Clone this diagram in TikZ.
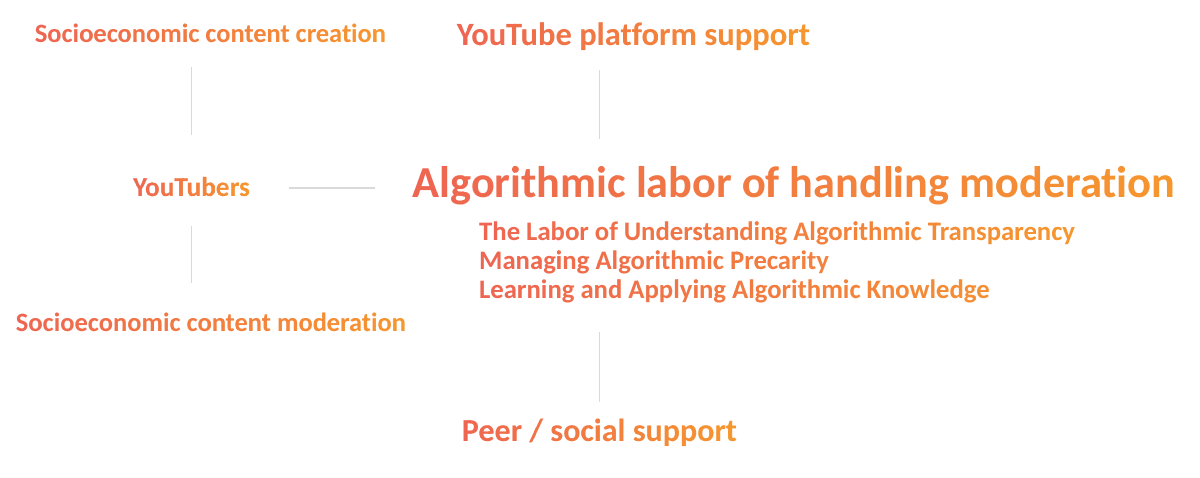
\documentclass[tikz,border=0pt]{standalone}
\usepackage{fontspec}
\setmainfont[Ligatures=NoCommon,RawFeature={-liga;-dlig}]{Carlito}
\usetikzlibrary{calc}
\definecolor{gL}{HTML}{EE6551}
\definecolor{gR}{HTML}{F6962E}
\definecolor{lineg}{HTML}{D9D9D9}
\tikzset{
  conn/.style={draw=lineg, line width=1.6pt},
  hid/.style={inner sep=0pt, opacity=0},
  lab/.style={inner sep=0pt}
}
% gradient text: #1 name, #2 position, #3 anchor, #4 content
\newcommand\gnode[4]{%
  \node[hid, anchor=#3] (#1) at (#2) {#4};
  \foreach \k in {0,...,29}{%
    \pgfmathtruncatemacro\pp{round(\k*100/29)}%
    \begin{scope}
      \clip ([xshift=-0.7pt,yshift=-8pt]$(#1.south west)!{\k/30}!(#1.south east)$)
        rectangle ([yshift=8pt]$(#1.north west)!{(\k+1)/30}!(#1.north east)$);
      \node[lab, text=gR!\pp!gL] at (#1.center) {#4};
    \end{scope}
  }%
}
\begin{document}
\begin{tikzpicture}[x=1pt,y=-1pt]
\useasboundingbox (0,0) rectangle (1200,477);
\fill[white] (0,0) rectangle (1200,477);
\gnode{creation}{210.5,42}{base}{\resizebox{351pt}{!}{\bfseries Socioeconomic content creation}}
\gnode{platform}{633.5,45}{base}{\resizebox{353pt}{!}{\bfseries YouTube platform support}}
\gnode{youtubers}{191.5,196}{base}{\resizebox{117pt}{!}{\bfseries YouTubers}}
\gnode{title}{794,197}{base}{\resizebox{762pt}{!}{\bfseries Algorithmic labor of handling moderation}}
\gnode{subs}{479,240}{base west}{\fontsize{26.7}{29}\selectfont\bfseries\begin{tabular}[t]{@{}l@{}}The Labor of Understanding Algorithmic Transparency\\ Managing Algorithmic Precarity\\ Learning and Applying Algorithmic Knowledge\end{tabular}}
\gnode{moderation}{211,331}{base}{\resizebox{390pt}{!}{\bfseries Socioeconomic content moderation}}
\gnode{peer}{599.5,441}{base}{\resizebox{275pt}{!}{\bfseries Peer / social support}}
\draw[conn] (youtubers |- 0,67) -- (youtubers |- 0,135);
\draw[conn] (peer |- 0,70) -- (peer |- 0,139);
\draw[conn] (youtubers |- 0,226) -- (youtubers |- 0,283);
\draw[conn] (peer |- 0,332) -- (peer |- 0,402);
\draw[conn, shorten <=39pt, shorten >=38pt] (youtubers.east |- 0,188) -- (title.west |- 0,188);
\end{tikzpicture}
\end{document}
